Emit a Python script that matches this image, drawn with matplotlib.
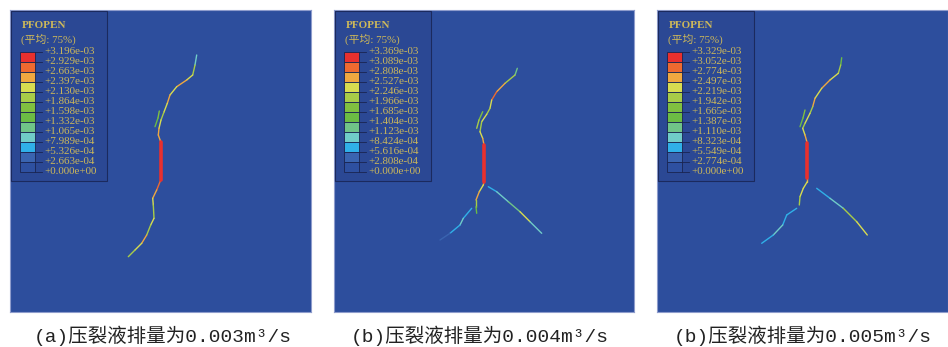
import matplotlib.pyplot as plt
from matplotlib.patches import Rectangle
from matplotlib.collections import LineCollection

# colour levels of the contour legend, top (max) to bottom (0)
LEVEL_COLORS = ['#E8302E', '#EE6A30', '#F0A840', '#D8DC50', '#A8CC48', '#80C040',
                '#6CBC44', '#70C488', '#70CCC8', '#30B0E8', '#3A64B0', '#2E50A0']

LABELS_A = ['+3.196e-03', '+2.929e-03', '+2.663e-03', '+2.397e-03', '+2.130e-03',
            '+1.864e-03', '+1.598e-03', '+1.332e-03', '+1.065e-03', '+7.989e-04',
            '+5.326e-04', '+2.663e-04', '+0.000e+00']
LABELS_B = ['+3.369e-03', '+3.089e-03', '+2.808e-03', '+2.527e-03', '+2.246e-03',
            '+1.966e-03', '+1.685e-03', '+1.404e-03', '+1.123e-03', '+8.424e-04',
            '+5.616e-04', '+2.808e-04', '+0.000e+00']
LABELS_C = ['+3.329e-03', '+3.052e-03', '+2.774e-03', '+2.497e-03', '+2.219e-03',
            '+1.942e-03', '+1.665e-03', '+1.387e-03', '+1.110e-03', '+8.323e-04',
            '+5.549e-04', '+2.774e-04', '+0.000e+00']

CAPTIONS = ['(a)压裂液排量为0.003m³/s', '(b)压裂液排量为0.004m³/s', '(b)压裂液排量为0.005m³/s']

# crack paths: (x, y, level of segment starting here), model coords 0..300
P1_UPPER = [(186.7, 45, 8), (185, 55, 4), (182.7, 65, 3), (176.7, 70, 2), (166.7, 76.7, 3),
            (160, 85, 2), (157.3, 93.3, 3), (154, 102, 4), (151, 110, 3), (149, 118.3, 2),
            (148.3, 125, 2), (150.7, 131.7, 2)]
P1_FORK = [(149.3, 101, 5), (148, 108, 6), (145, 116.7, 6)]
P1_RED = [(150.7, 131.7, 0), (150.7, 170, 0)]
P1_LOWER = [(150.7, 170, 1), (146.7, 180, 2), (142.7, 188.3, 3), (143.3, 195, 4),
            (144, 208.3, 3), (140.7, 215, 4), (136.7, 225, 2), (131.7, 233.3, 3),
            (125, 240, 4), (118.3, 246.7, 8)]

P2_UPPER = [(183.3, 58.3, 7), (181, 65, 4), (171, 73.3, 2), (162.7, 81.7, 1), (157.7, 90, 3),
            (156, 98.3, 4), (152.7, 104.3, 3), (147.7, 111.7, 4), (146, 121.7, 3),
            (148.7, 128.3, 2), (150, 135, 2)]
P2_FORK = [(148.7, 101.7, 5), (145, 110, 4), (142.7, 118.3, 6)]
P2_RED = [(150, 135, 0), (150, 171.7, 0)]
P2_LOWER = [(150, 171.7, 2), (149.3, 175, 3), (145.3, 181.7, 2), (142, 190, 4),
            (142, 196.7, 6), (142.7, 203.3, 6)]
P2_LEFT = [(137.7, 198.3, 9), (129.3, 208.3, 8), (126, 215, 9), (116, 223.3, 10), (106, 230, 10)]
P2_RIGHT = [(154.3, 176.7, 9), (162.7, 181.7, 8), (174.3, 191.7, 7), (186, 201.7, 3),
            (196, 211.7, 8), (207.7, 223.3, 9)]

P3_UPPER = [(184.7, 47.7, 6), (183.7, 55, 4), (181.3, 63.3, 3), (173, 70, 2), (164.7, 78.3, 3),
            (158, 88.3, 2), (155.7, 96.7, 4), (153, 103.3, 3), (148, 113.3, 4),
            (145.7, 118.3, 3), (148, 125, 2), (150.3, 133.3, 2)]
P3_FORK = [(148, 100, 5), (146, 108, 6), (143, 116.7, 6)]
P3_RED = [(150.3, 133.3, 0), (150.3, 168.3, 0)]
P3_LOWER = [(150.3, 168.3, 2), (150.3, 171.7, 3), (146.3, 178.3, 3), (143, 186.7, 4),
            (142.3, 195, 6)]
P3_LEFT = [(139.7, 198.3, 9), (129.7, 205, 9), (125.7, 215, 8), (116.3, 225, 9), (104.7, 233.3, 10)]
P3_RIGHT = [(159.7, 178.3, 9), (173, 188.3, 8), (186.3, 198.3, 4), (199.7, 211.7, 3),
            (210.3, 225, 8)]

BG = '#2D4E9D'
TEXT = '#CDB85A'

fig = plt.figure(figsize=(9.48, 3.47), dpi=100)
W, H = 948, 347


def add_crack(ax, pts, lw):
    segs = [[(pts[i][0], pts[i][1]), (pts[i + 1][0], pts[i + 1][1])] for i in range(len(pts) - 1)]
    cols = [LEVEL_COLORS[p[2]] for p in pts[:-1]]
    ax.add_collection(LineCollection(segs, colors=cols, linewidths=lw, capstyle='round', zorder=3))


def draw_legend(ax, labels):
    ax.add_patch(Rectangle((1, 1), 96, 170, fc='#2B4894', ec='#1B2A5E', lw=0.8, zorder=5))
    ax.text(12, 16, 'PFOPEN', fontsize=8, color=TEXT, fontweight='bold',
            family=['Liberation Serif'], va='center', zorder=6)
    ax.text(11, 29, '(平均: 75%)', fontsize=7.8, color=TEXT,
            family=['Liberation Serif', 'Noto Sans CJK SC'], va='center', zorder=6)
    for i, c in enumerate(LEVEL_COLORS):
        ax.add_patch(Rectangle((10, 42 + 10 * i), 15, 10, fc=c, ec='#1A2450', lw=0.6, zorder=6))
    for i, lab in enumerate(labels):
        y = 42 + 10 * i
        ax.plot([25, 32], [y, y], color='#1A2450', lw=0.6, zorder=6)
        ax.text(34, y, lab, fontsize=7.9, color=TEXT, family=['Liberation Serif'],
                va='center', ha='left', zorder=6)


panels = [
    (10, 301, LABELS_A, [P1_UPPER, P1_FORK, P1_LOWER], P1_RED),
    (334, 300, LABELS_B, [P2_UPPER, P2_FORK, P2_LOWER, P2_LEFT, P2_RIGHT], P2_RED),
    (657, 291, LABELS_C, [P3_UPPER, P3_FORK, P3_LOWER, P3_LEFT, P3_RIGHT], P3_RED),
]

for left, width, labels, cracks, red in panels:
    ax = fig.add_axes([left / W, 1 - 312 / H, width / W, 302 / H])
    ax.set_facecolor(BG)
    ax.set_xlim(0, width)
    ax.set_ylim(302, 0)
    ax.set_xticks([])
    ax.set_yticks([])
    for s in ax.spines.values():
        s.set_color('#8E9CCC')
        s.set_linewidth(0.8)
    for c in cracks:
        add_crack(ax, c, 1.0)
    add_crack(ax, red, 2.6)
    draw_legend(ax, labels)

for cx, cap in zip([163, 480, 803], CAPTIONS):
    fig.text(cx / W, 1 - 336 / H, cap, fontsize=14, ha='center', va='center', color='#222222',
             family=['Liberation Mono', 'Noto Sans CJK SC'])

fig.savefig('out.png', dpi=100, facecolor='white')
